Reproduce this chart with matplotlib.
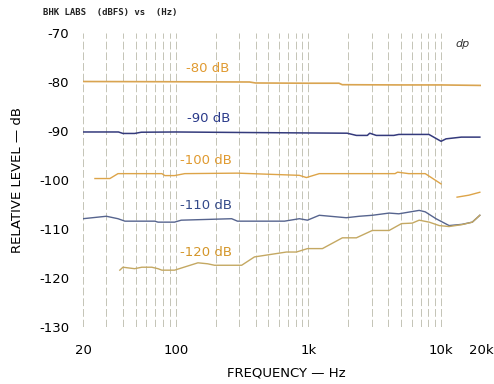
import numpy as np
import matplotlib
matplotlib.use("Agg")
import matplotlib.pyplot as plt

# curves (Hz, dB)
f80 = [20, 100, 360, 400, 1000, 1700, 1800, 5000, 10000, 20000]
db80 = [-79.9, -79.95, -80.0, -80.2, -80.25, -80.25, -80.55, -80.6, -80.6, -80.7]

f90 = [20, 37, 40, 49, 55, 100, 300, 1000, 1960, 2300, 2780, 2900, 3250, 4400, 4800, 8100, 10000, 10900, 14200, 19600]
db90 = [-90.2, -90.2, -90.5, -90.5, -90.25, -90.2, -90.3, -90.4, -90.45, -90.9, -90.9, -90.45, -90.9, -90.9, -90.7, -90.7, -92.1, -91.6, -91.25, -91.25]

f100 = [24.6, 31.9, 36.7, 78.6, 82.8, 98, 117, 292, 855, 966, 1208, 4500, 4700, 5700, 7600, 10000, 11000, 13200, 16200, 19600]
db100 = [-99.7, -99.7, -98.7, -98.7, -99.1, -99.1, -98.7, -98.6, -99.05, -99.5, -98.7, -98.7, -98.4, -98.7, -98.7, -100.8, np.nan, -103.5, -103.1, -102.5]

f110 = [20, 30, 36.7, 41.4, 69.6, 73.5, 98, 110, 264, 292, 660, 855, 984, 1208, 1930, 2420, 3030, 4060, 4800, 6840, 7600, 9160, 11500, 14400, 17200, 19600]
db110 = [-107.9, -107.4, -107.9, -108.4, -108.4, -108.6, -108.6, -108.2, -107.9, -108.4, -108.4, -107.9, -108.2, -107.2, -107.7, -107.4, -107.2, -106.75, -106.9, -106.2, -106.5, -107.9, -109.3, -109.05, -108.6, -107.2]

f120 = [37.9, 40, 49, 55.5, 66, 73.5, 78.6, 98, 147, 174, 196, 314, 392, 683, 812, 984, 1276, 1804, 2300, 3030, 4060, 5030, 6060, 6840, 8140, 9690, 11500, 14400, 17200, 19600]
db120 = [-118.4, -117.8, -118.1, -117.8, -117.8, -118.1, -118.4, -118.4, -116.9, -117.1, -117.4, -117.4, -115.7, -114.7, -114.7, -114.0, -114.0, -111.8, -111.8, -110.3, -110.3, -108.9, -108.8, -108.2, -108.6, -109.3, -109.5, -109.1, -108.6, -107.2]

grid_f = [20, 30, 40, 50, 60, 70, 80, 90, 100, 200, 300, 400, 500, 600, 700, 800, 900,
          1000, 2000, 3000, 4000, 5000, 6000, 7000, 8000, 9000, 10000, 20000]

xticks = [20, 100, 1000, 10000, 20000]
xticklabels = ["20", "100", "1k", "10k", "20k"]
yticks = [-70, -80, -90, -100, -110, -120, -130]
yticklabels = ["-70", "-80", "-90", "-100", "-110", "-120", "-130"]

fig = plt.figure(figsize=(4.94, 3.84), dpi=100)
ax = fig.add_axes([83 / 494, 57 / 384, 398 / 494, 294 / 384])
ax.set_xscale("log")
ax.set_xlim(20, 20000)
ax.set_ylim(-130, -70)

# dashed vertical grid, only on x
for g in grid_f:
    ax.axvline(g, color="#c4c4b6", lw=0.7, ls=(0, (8, 3)), zorder=1)

ax.plot(f80, db80, color="#d9a450", lw=1.2, zorder=3)
ax.plot(f90, db90, color="#343a7c", lw=1.1, zorder=3)
ax.plot(f100, db100, color="#dda448", lw=1.0, zorder=3)
ax.plot(f110, db110, color="#56648e", lw=1.0, zorder=3)
ax.plot(f120, db120, color="#c4a862", lw=1.0, zorder=3)

# curve labels
ax.text(174, -77.2, "-80 dB", color="#e09a30", fontsize=9.5, ha="center", va="center")
ax.text(176, -87.4, "-90 dB", color="#2a3a8a", fontsize=9.5, ha="center", va="center")
ax.text(170, -96.0, "-100 dB", color="#e09a30", fontsize=9.5, ha="center", va="center")
ax.text(168, -105.2, "-110 dB", color="#344a8a", fontsize=9.5, ha="center", va="center")
ax.text(170, -114.8, "-120 dB", color="#d4962a", fontsize=9.5, ha="center", va="center")

ax.set_xticks(xticks)
ax.set_xticklabels(xticklabels)
ax.xaxis.set_minor_locator(matplotlib.ticker.NullLocator())
ax.set_yticks(yticks)
ax.set_yticklabels(yticklabels)
ax.tick_params(axis="x", length=0, pad=12, labelsize=9.5)
ax.tick_params(axis="y", length=0, pad=10, labelsize=9.5)
for s in ax.spines.values():
    s.set_visible(False)

fig.text(286 / 494, 1 - 373 / 384, "FREQUENCY \u2014 Hz", fontsize=9.5, ha="center", va="center")
fig.text(18 / 494, 1 - 180 / 384, "RELATIVE LEVEL \u2014 dB", fontsize=9.5, ha="center", va="center", rotation=90)
fig.text(43 / 494, 1 - 13 / 384, "BHK LABS  (dBFS) vs  (Hz)", fontsize=6.5, family="DejaVu Sans Mono",
         weight="bold", ha="left", va="center", color="#222222")
fig.text(463 / 494, 1 - 44 / 384, "dp", fontsize=8, style="italic", ha="center", va="center", color="#333333")

fig.savefig("out.png", dpi=100)
